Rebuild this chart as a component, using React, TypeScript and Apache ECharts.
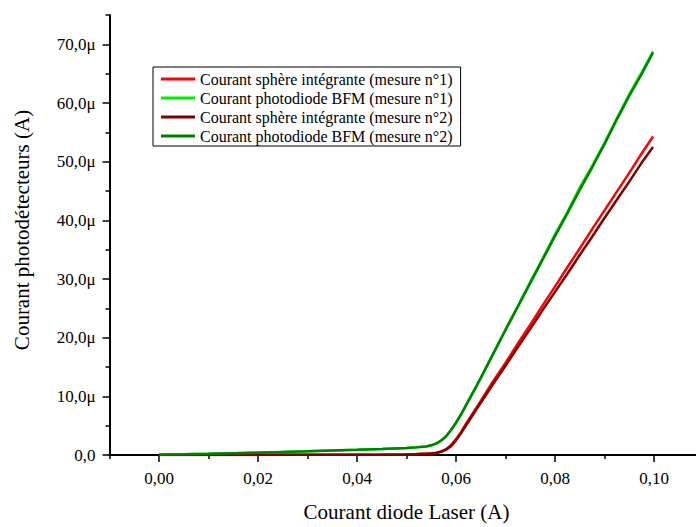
import React, { useEffect, useRef } from "react";
import * as echarts from "echarts";

// Laser diode current (A)
const xValues = [
  0, 0.005, 0.01, 0.015, 0.02, 0.025, 0.03, 0.035, 0.04, 0.045, 0.05, 0.052, 0.054, 0.055, 0.056,
  0.057, 0.058, 0.059, 0.06, 0.061, 0.062, 0.063, 0.064, 0.065, 0.0675, 0.07, 0.0725, 0.075,
  0.0775, 0.08, 0.0825, 0.085, 0.0875, 0.09, 0.0925, 0.095, 0.0975, 0.0998,
];

// Photodetector currents (µA)
const sphere1 = [
  0, 0.01, 0.01, 0.02, 0.02, 0.03, 0.03, 0.04, 0.05, 0.07, 0.12, 0.16, 0.24, 0.3, 0.4,
  0.6, 1.0, 1.7, 2.7, 3.9, 5.3, 6.6, 7.9, 9.2, 12.6, 15.7, 19.0, 22.2,
  25.5, 28.7, 32.0, 35.2, 38.5, 41.7, 44.9, 48.1, 51.4, 54.3,
];
const photo1 = [
  0.05, 0.13, 0.21, 0.31, 0.42, 0.53, 0.65, 0.77, 0.9, 1.04, 1.2, 1.32, 1.47, 1.67, 1.97,
  2.47, 3.2, 4.25, 5.5, 6.9, 8.5, 10.1, 11.6, 13.2, 17.3, 21.4, 25.4, 29.5,
  33.5, 37.6, 41.4, 45.6, 49.3, 53.2, 57.4, 61.5, 65.2, 68.8,
];
const sphere2 = [
  0, 0.01, 0.01, 0.02, 0.02, 0.03, 0.03, 0.04, 0.05, 0.06, 0.1, 0.14, 0.21, 0.27, 0.35,
  0.55, 0.9, 1.5, 2.5, 3.7, 5.0, 6.3, 7.6, 8.9, 12.1, 15.2, 18.4, 21.5,
  24.7, 27.8, 30.9, 34.1, 37.2, 40.4, 43.5, 46.6, 49.8, 52.5,
];
const photo2 = [
  0.05, 0.12, 0.2, 0.3, 0.4, 0.52, 0.63, 0.75, 0.88, 1.02, 1.18, 1.3, 1.45, 1.65, 1.95,
  2.45, 3.2, 4.25, 5.5, 6.9, 8.4, 9.95, 11.5, 13.1, 17.2, 21.3, 25.3, 29.3,
  33.3, 37.3, 41.2, 45.2, 49.0, 53.0, 57.2, 61.2, 64.9, 68.6,
];

const seriesNames = [
  "Courant sphère intégrante (mesure n°1)",
  "Courant photodiode BFM (mesure n°1)",
  "Courant sphère intégrante (mesure n°2)",
  "Courant photodiode BFM (mesure n°2)",
];
const seriesColors = ["#ff0000", "#00ee00", "#800000", "#008000"];
const seriesValues = [sphere1, photo1, sphere2, photo2];

const xLabelValues = [0, 0.02, 0.04, 0.06, 0.08, 0.1];
const xMinorValues = [-0.01, 0.01, 0.03, 0.05, 0.07, 0.09, 0.11];
const yLabelValues = [0, 10, 20, 30, 40, 50, 60, 70];
const yMinorValues = [5, 15, 25, 35, 45, 55, 65, 75];

const FONT = "Liberation Serif";

export default function App() {
  const ref = useRef<HTMLDivElement>(null);

  useEffect(() => {
    if (!ref.current) return;
    const chart = echarts.init(ref.current, null, { renderer: "svg" });

    const axisLineStyle = { color: "#000", width: 2 };
    const tickStyle = { color: "#000", width: 1.5 };

    chart.setOption({
      animation: false,
      backgroundColor: "#fff",
      grid: { left: 109.5, right: 0.5, top: 15, bottom: 69.3, containLabel: false },
      legend: {
        orient: "vertical",
        left: 153,
        top: 67,
        icon: "rect",
        itemWidth: 34,
        itemHeight: 3,
        itemGap: 3,
        padding: [4, 8, 2, 8],
        borderColor: "#000",
        borderWidth: 1,
        backgroundColor: "#fff",
        textStyle: { fontFamily: FONT, fontSize: 16, color: "#000" },
        data: seriesNames,
      },
      xAxis: [
        {
          type: "value",
          min: -0.01,
          max: 0.11,
          interval: 0.01,
          position: "bottom",
          axisLine: { onZero: false, lineStyle: axisLineStyle },
          axisTick: { customValues: xLabelValues, length: 7, lineStyle: tickStyle },
          axisLabel: {
            customValues: xLabelValues,
            margin: 15,
            fontFamily: FONT,
            fontSize: 17,
            color: "#000",
            formatter: (v: number) => v.toFixed(2).replace(".", ","),
          },
          splitLine: { show: false },
          name: "Courant diode Laser (A)",
          nameLocation: "middle",
          nameGap: 46,
          nameTextStyle: { fontFamily: FONT, fontSize: 21, color: "#000" },
        },
        {
          type: "value",
          min: -0.01,
          max: 0.11,
          interval: 0.01,
          position: "bottom",
          axisLine: { show: false, onZero: false },
          axisTick: { customValues: xMinorValues, length: 4, lineStyle: tickStyle },
          axisLabel: { show: false },
          splitLine: { show: false },
        },
      ],
      yAxis: [
        {
          type: "value",
          min: 0,
          max: 75,
          interval: 5,
          position: "left",
          axisLine: { onZero: false, lineStyle: axisLineStyle },
          axisTick: { customValues: yLabelValues, length: 7, lineStyle: tickStyle },
          axisLabel: {
            customValues: yLabelValues,
            margin: 14,
            fontFamily: FONT,
            fontSize: 17,
            color: "#000",
            formatter: (v: number) =>
              v === 0 ? "0,0" : v.toFixed(1).replace(".", ",") + "μ",
          },
          splitLine: { show: false },
        },
        {
          type: "value",
          min: 0,
          max: 75,
          interval: 5,
          position: "left",
          axisLine: { show: false, onZero: false },
          axisTick: { customValues: yMinorValues, length: 4, lineStyle: tickStyle },
          axisLabel: { show: false },
          splitLine: { show: false },
        },
      ],
      graphic: [
        {
          type: "text",
          x: 22,
          y: 230,
          rotation: Math.PI / 2,
          style: {
            text: "Courant photodétecteurs (A)",
            fontFamily: FONT,
            fontSize: 21,
            fill: "#000",
            align: "center",
            verticalAlign: "middle",
          },
        },
      ],
      series: seriesNames.map((name, i) => ({
        name,
        type: "line",
        xAxisIndex: 0,
        yAxisIndex: 0,
        showSymbol: false,
        symbol: "none",
        smooth: false,
        color: seriesColors[i],
        lineStyle: { color: seriesColors[i], width: 2.5 },
        data: xValues.map((x, k) => [x, seriesValues[i][k]]),
      })),
    });

    return () => chart.dispose();
  }, []);

  return (
    <div style={{ position: "fixed", left: 0, top: 0, width: 696, height: 527, overflow: "hidden" }}>
      <div ref={ref} style={{ width: 704, height: 527 }} />
    </div>
  );
}
